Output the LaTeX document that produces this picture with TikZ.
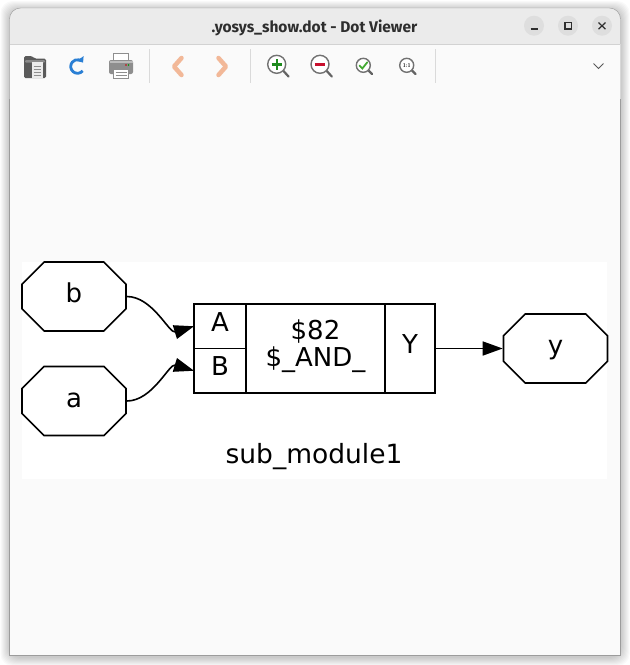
\documentclass[tikz,border=0pt]{standalone}
\usepackage{fontspec}
\setmainfont{DejaVu Sans}
\newfontfamily\dotfont{DejaVu Sans}
\newfontfamily\titlefont{Fira Sans}
\usetikzlibrary{positioning}
\usetikzlibrary{shapes.misc}
\usetikzlibrary{arrows.meta}
\definecolor{winbg}{HTML}{FAFAFA}
\definecolor{titlebg}{HTML}{EBEBEB}
\definecolor{winborder}{HTML}{9C9C9C}
\definecolor{titleline}{HTML}{D2D2D2}
\definecolor{btnbg}{HTML}{DEDEDE}
\definecolor{glyph}{HTML}{2E2E2E}
\definecolor{sepline}{HTML}{DADADA}
\definecolor{folderdark}{HTML}{5A5A5A}
\definecolor{refblue}{HTML}{2A7FD4}
\definecolor{printgrey}{HTML}{8E8E8E}
\definecolor{chevron}{HTML}{F2B898}
\definecolor{zoomgreen}{HTML}{1E8A1E}
\definecolor{zoomred}{HTML}{C8102E}
\definecolor{checkgreen}{HTML}{44AA33}
\tikzset{
	every node/.style = {font=\dotfont\fontsize{26}{27}\selectfont},
	octo/.style = {chamfered rectangle, draw, line width=1.6pt, fill=white,
		minimum width=104pt, minimum height=69pt, inner sep=0pt,
		chamfered rectangle xsep=30.5pt, chamfered rectangle ysep=21pt,
		text height=20pt, text depth=8pt},
	cell/.style = {rectangle, draw, line width=1.6pt, fill=white, inner sep=0pt,
		outer sep=0pt},
	portlbl/.style = {cell, text height=19pt, text depth=9pt},
	wire/.style = {line width=1.6pt, -{Triangle[length=20pt, width=14pt]}},
	winbtn/.style = {fill=btnbg},
	toolsep/.style = {sepline, line width=1pt},
	lens/.style = {draw=printgrey!80!black, fill=white, line width=1.4pt},
	lenshandle/.style = {printgrey!70!black, line width=2.2pt, line cap=round}
}

\begin{document}
\begin{tikzpicture}[x=1pt, y=-1pt]
		\useasboundingbox (0,0) rectangle (630,665);
		\fill[white] (0,0) rectangle (630,665);
		% shadow
		\foreach \s in {1,...,9}
			\fill[black, opacity=0.022, rounded corners=12pt] (9.5-\s,10-\s) rectangle (620.5+\s,657+\s);
		% window
		\fill[titlebg, rounded corners=11pt] (9.5,60) -- (9.5,8) -- (620.5,8) -- (620.5,60) -- cycle;
		\fill[winbg] (9.5,44) rectangle (620.5,655);
		\draw[winborder, rounded corners=11pt] (9.5,100) -- (9.5,8) -- (620.5,8) -- (620.5,100);
		\draw[winborder] (9.5,99) -- (9.5,655) -- (620.5,655) -- (620.5,99);
		\draw[titleline] (10,44) -- (620,44);
		\node[font=\titlefont\bfseries\fontsize{15.5}{18}\selectfont, text=glyph, anchor=base] (title) at (314.5,32.3) {.yosys\_show.dot - Dot Viewer};
		% title buttons
		\fill[winbtn] (534,25.7) circle (10);
		\fill[winbtn] (568,25.7) circle (10);
		\fill[winbtn] (602,25.7) circle (10);
		\draw[glyph, line width=1.2pt] (530.5,29) -- (537.5,29);
		\draw[glyph, line width=1.2pt] (565,22.5) rectangle (571.2,29);
		\draw[glyph, line width=1.2pt] (598.5,22.5) -- (605.5,29.2) (598.5,29.2) -- (605.5,22.5);
		% toolbar
		\fill[folderdark, rounded corners=1.5pt] (24,56) -- (32,56) -- (34.5,58.5) -- (46,58.5) -- (46,78) -- (24,78) -- cycle;
		\fill[folderdark!70!white, rounded corners=1pt] (25,60) rectangle (45,62.5);
		\fill[white!92!black] (31.5,62) rectangle (43,78);
		\foreach \ly in {66,69,72,75}
			\draw[printgrey, line width=0.7pt] (33.5,\ly) -- (41,\ly);
		\draw[refblue, line width=2.8pt, -{Triangle[length=5pt, width=8pt]}] (77.5,66.5) ++(40:6.8) arc (40:325:6.8);
		\fill[white, draw=printgrey, line width=0.8pt] (113.5,53.5) rectangle (128.5,62);
		\fill[printgrey, rounded corners=2pt] (109,60) rectangle (133,74);
		\fill[printgrey!60!white] (109.5,60.5) rectangle (132.5,62.5);
		\fill[red!80!black] (126,65) circle (0.8);
		\fill[green!60!black] (128.5,65) circle (0.8);
		\fill[white, draw=printgrey, line width=0.8pt] (113.5,69.5) rectangle (128.5,78);
		\draw[printgrey, line width=0.7pt] (115.5,72.5) -- (126.5,72.5) (115.5,75.5) -- (126.5,75.5);
		\draw[toolsep] (149,49) -- (149,83);
		\draw[chevron, line width=4.5pt, line join=round, line cap=round] (181.5,58) -- (174,66.5) -- (181.5,75);
		\draw[chevron, line width=4.5pt, line join=round, line cap=round] (218.5,58) -- (226,66.5) -- (218.5,75);
		\draw[toolsep] (250,49) -- (250,83);
		\draw[lenshandle] (283.5,71) -- (288.5,76.5);
		\draw[lens] (276.7,64.3) circle (9);
		\draw[zoomgreen, line width=2.4pt] (271.5,64.3) -- (281.9,64.3) (276.7,59.1) -- (276.7,69.5);
		\draw[lenshandle] (326.8,71) -- (331.8,76.5);
		\draw[lens] (320,64.3) circle (9);
		\draw[zoomred, line width=2.6pt] (314.8,64.3) -- (325.2,64.3);
		\draw[lenshandle] (368.5,70.5) -- (372,74);
		\draw[lens] (363.3,65.3) circle (7);
		\draw[checkgreen, line width=1.8pt, line cap=round] (359.5,65.5) -- (362.3,68.5) -- (367.3,62.3);
		\draw[lenshandle] (412,70.5) -- (415.5,74);
		\draw[lens] (406.7,65.3) circle (7);
		\node[font=\sffamily\bfseries\fontsize{5.5}{6}\selectfont, text=glyph, inner sep=0pt] (onetoone) at (406.7,65.3) {1:1};
		\draw[toolsep] (435,49) -- (435,83);
		\draw[glyph!80!white, line width=1pt] (593.5,63.5) -- (598.5,68.5) -- (603.5,63.5);
		% graph
		\fill[white] (22,262) rectangle (607,479);
		\node[octo] (inb) at (74,296.5) {b};
		\node[octo] (ina) at (74,401) {a};
		\node[octo] (outy) at (555.5,348.5) {y};
		\node[cell, minimum width=139pt, minimum height=89pt, align=center,
			text height=44pt, text depth=9pt] (cellmain) at (315.5,348.5) {\$82\\\$\_AND\_};
		\node[portlbl, minimum width=52pt, minimum height=44.5pt, anchor=north east] (portA) at (cellmain.north west) {A};
		\node[portlbl, minimum width=52pt, minimum height=44.5pt, anchor=south east] (portB) at (cellmain.south west) {B};
		\node[portlbl, minimum width=50pt, minimum height=89pt, anchor=west] (portY) at (cellmain.east) {Y};
		\draw[wire] (inb.east) to[out=0, in=197, looseness=0.9] (portA.west);
		\draw[wire] (ina.east) to[out=0, in=163, looseness=0.9] (portB.west);
		\draw[wire] (portY.east) -- (outy.west);
		\node[font=\dotfont\fontsize{26.5}{28}\selectfont, anchor=base] (lblsub) at (314,463) {sub\_module1};
	\end{tikzpicture}
\end{document}
